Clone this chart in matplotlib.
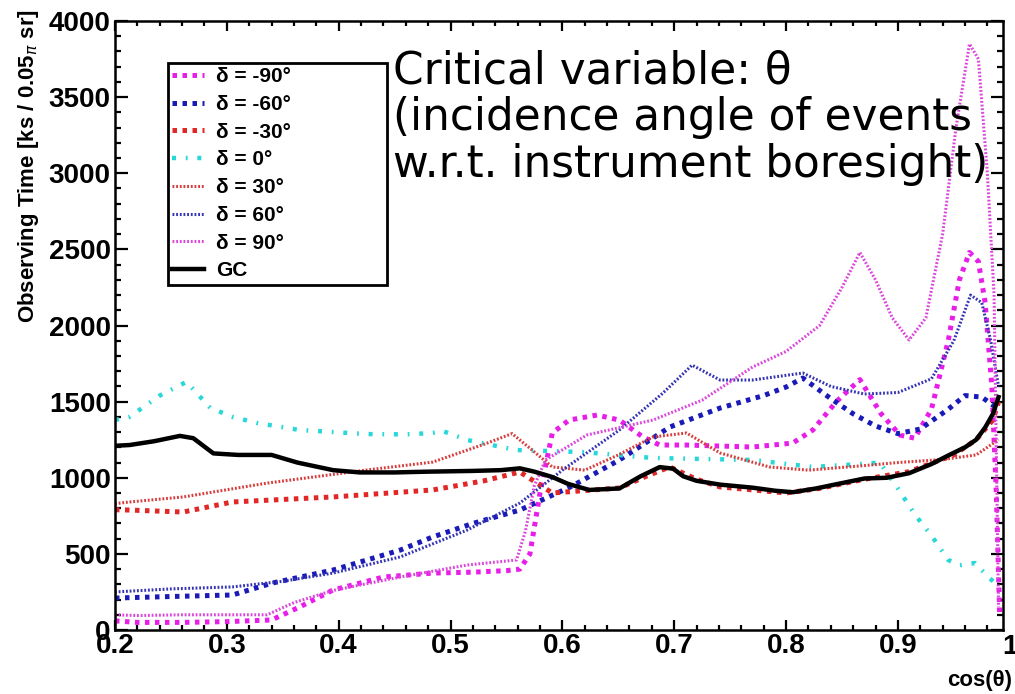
import matplotlib.pyplot as plt
from matplotlib.ticker import MultipleLocator

plt.rcParams['font.family'] = ['Liberation Sans', 'DejaVu Sans']

# --- data ---
gc_x = [0.2, 0.213, 0.235, 0.258, 0.27, 0.288, 0.31, 0.34, 0.363, 0.395, 0.419, 0.45, 0.479, 0.52, 0.545,
        0.562, 0.575, 0.591, 0.605, 0.624, 0.651, 0.67, 0.687, 0.699, 0.708, 0.72, 0.741, 0.77, 0.79, 0.806,
        0.827, 0.85, 0.87, 0.89, 0.91, 0.93, 0.946, 0.96, 0.97, 0.978, 0.985, 0.99]
gc_y = [1210, 1215, 1240, 1275, 1260, 1160, 1150, 1150, 1100, 1050, 1035, 1035, 1040, 1045, 1050,
        1062, 1040, 1005, 960, 920, 930, 1010, 1070, 1060, 1010, 980, 955, 935, 915, 905,
        930, 965, 995, 1000, 1030, 1090, 1150, 1200, 1250, 1330, 1420, 1530]

d0_x = [0.2, 0.213, 0.24, 0.264, 0.285, 0.305, 0.327, 0.365, 0.425, 0.46, 0.484, 0.493, 0.515, 0.559,
        0.618, 0.681, 0.77, 0.824, 0.866, 0.884, 0.9, 0.915, 0.93, 0.945, 0.955, 0.969, 0.982, 0.99]
d0_y = [1380, 1400, 1540, 1630, 1460, 1400, 1360, 1314, 1287, 1285, 1294, 1307, 1248, 1182,
        1169, 1130, 1117, 1071, 1090, 1100, 930, 760, 620, 460, 425, 440, 340, 290]

dm90_x = [0.2, 0.22, 0.26, 0.3, 0.34, 0.365, 0.395, 0.44, 0.484, 0.52, 0.55, 0.562, 0.571, 0.58, 0.591,
          0.606, 0.631, 0.651, 0.672, 0.687, 0.711, 0.77, 0.806, 0.824, 0.845, 0.866, 0.885, 0.902, 0.915,
          0.93, 0.945, 0.955, 0.964, 0.972, 0.978, 0.984, 0.988, 0.991]
dm90_y = [60, 50, 50, 55, 66, 151, 263, 348, 374, 380, 390, 400, 500, 900, 1294,
          1379, 1412, 1379, 1268, 1215, 1215, 1202, 1228, 1314, 1500, 1645, 1420, 1280, 1260,
          1450, 1900, 2300, 2480, 2420, 2150, 1600, 900, 100]

d90_x = [0.2, 0.22, 0.26, 0.3, 0.336, 0.36, 0.395, 0.455, 0.515, 0.559, 0.567, 0.575, 0.585, 0.622,
         0.681, 0.725, 0.77, 0.8, 0.83, 0.85, 0.866, 0.88, 0.895, 0.91, 0.925, 0.94, 0.952, 0.964,
         0.972, 0.98, 0.986, 0.99]
d90_y = [100, 95, 100, 100, 100, 180, 260, 348, 427, 460, 650, 950, 1117, 1281,
         1379, 1510, 1727, 1830, 2000, 2250, 2480, 2300, 2050, 1905, 2050, 2600, 3300, 3850,
         3750, 3000, 2200, 150]

dm60_x = [0.2, 0.25, 0.305, 0.341, 0.395, 0.455, 0.484, 0.52, 0.562, 0.607, 0.651, 0.696, 0.741, 0.78,
          0.8, 0.815, 0.84, 0.86, 0.88, 0.9, 0.92, 0.945, 0.96, 0.975, 0.99]
dm60_y = [210, 220, 230, 309, 394, 525, 611, 700, 788, 939, 1117, 1333, 1458, 1540,
          1596, 1655, 1520, 1420, 1340, 1290, 1320, 1450, 1540, 1530, 1450]

d60_x = [0.2, 0.25, 0.305, 0.35, 0.395, 0.455, 0.515, 0.562, 0.6, 0.651, 0.69, 0.716, 0.741, 0.77,
         0.815, 0.84, 0.87, 0.9, 0.93, 0.95, 0.965, 0.975, 0.983, 0.99]
d60_y = [250, 270, 283, 320, 374, 480, 657, 834, 1050, 1314, 1557, 1740, 1642, 1642,
         1688, 1600, 1550, 1560, 1650, 1900, 2200, 2150, 1900, 1600]

dm30_x = [0.2, 0.213, 0.261, 0.305, 0.395, 0.484, 0.53, 0.562, 0.591, 0.651, 0.675, 0.696, 0.72, 0.741,
          0.8, 0.83, 0.87, 0.91, 0.95, 0.97, 0.985, 0.99]
dm30_y = [790, 788, 775, 841, 874, 920, 980, 1038, 900, 933, 1010, 1071, 990, 940,
          900, 930, 990, 1040, 1150, 1250, 1380, 1500]

d30_x = [0.2, 0.213, 0.261, 0.336, 0.425, 0.484, 0.53, 0.555, 0.57, 0.591, 0.62, 0.65, 0.681, 0.711,
         0.741, 0.785, 0.82, 0.87, 0.9, 0.94, 0.97, 0.99]
d30_y = [830, 841, 874, 965, 1051, 1103, 1220, 1290, 1200, 1071, 1050, 1150, 1268, 1294,
         1163, 1071, 1050, 1080, 1100, 1120, 1150, 1250]

labels = ['δ = -90°', 'δ = -60°', 'δ = -30°', 'δ = 0°', 'δ = 30°', 'δ = 60°', 'δ = 90°', 'GC']

fig = plt.figure(figsize=(10.15, 6.94), dpi=100)
ax = fig.add_axes([0.1133, 0.0922, 0.8749, 0.8775])

thick = (0, (0.9, 1.1))
thin = (0, (0.6, 0.6))
ax.plot(dm90_x, dm90_y, color='#e81ee8', lw=3.6, ls=thick, label=labels[0])
ax.plot(dm60_x, dm60_y, color='#1a1ab8', lw=3.6, ls=thick, label=labels[1])
ax.plot(dm30_x, dm30_y, color='#e02828', lw=3.6, ls=thick, label=labels[2])
ax.plot(d0_x, d0_y, color='#28d8d8', lw=3.2, ls=(0, (0.9, 2.2, 0.4, 2.2)), label=labels[3])
ax.plot(d30_x, d30_y, color='#d83c3c', lw=2.2, ls=thin, label=labels[4])
ax.plot(d60_x, d60_y, color='#3434b4', lw=2.2, ls=thin, label=labels[5])
ax.plot(d90_x, d90_y, color='#dc46dc', lw=2.2, ls=thin, label=labels[6])
ax.plot(gc_x, gc_y, color='black', lw=3.2, label=labels[7])

ax.set_xlim(0.2, 0.994)
ax.set_ylim(0, 4000)
ax.xaxis.set_major_locator(MultipleLocator(0.1))
ax.xaxis.set_minor_locator(MultipleLocator(0.02))
ax.yaxis.set_major_locator(MultipleLocator(500))
ax.yaxis.set_minor_locator(MultipleLocator(100))
ax.tick_params(which='both', direction='in', top=True, right=True, width=1.6)
ax.tick_params(axis='x', which='major', length=7.5, labelsize=20, pad=2)
ax.tick_params(axis='x', which='minor', length=3.8)
ax.tick_params(axis='y', which='major', length=9, labelsize=20, pad=3)
ax.tick_params(axis='y', which='minor', length=4.5)
ax.set_xticks([0.2, 0.3, 0.4, 0.5, 0.6, 0.7, 0.8, 0.9])
ax.set_xticklabels(['0.2', '0.3', '0.4', '0.5', '0.6', '0.7', '0.8', '0.9'])
for lab in ax.get_xticklabels() + ax.get_yticklabels():
    lab.set_fontweight('bold')
# "1" sits at the very right edge, as in the original
ax.text(1.0, -0.006, '1', transform=ax.get_xaxis_transform(), ha='center', va='top',
        fontsize=20, fontweight='bold', clip_on=False)
for s in ax.spines.values():
    s.set_linewidth(1.8)

fig.text(0.028, 0.987, 'Observing Time [ks / 0.05$_{\\pi}$ sr]', rotation=90, ha='center', va='top',
         fontsize=16, fontweight='bold')
fig.text(0.997, 0.02, 'cos(θ)', ha='right', va='center', fontsize=16, fontweight='bold')

leg = ax.legend(loc='upper left', bbox_to_anchor=(168 / 1015, 1 - 284 / 694, 219 / 1015, 221 / 694),
                bbox_transform=fig.transFigure, mode='expand',
                prop={'weight': 'bold', 'size': 15}, frameon=True, fancybox=False, framealpha=1,
                edgecolor='black', handlelength=1.55, handletextpad=0.55, labelspacing=0.42,
                borderpad=0.2, borderaxespad=0)
leg.get_frame().set_linewidth(2.0)

fig.text(393 / 1015, 1 - 50 / 694, 'Critical variable: θ\n(incidence angle of events\nw.r.t. instrument boresight)',
         family=['DejaVu Sans'], fontsize=31.5, ha='left', va='top', linespacing=1.1)

fig.savefig('out.png', dpi=100)
